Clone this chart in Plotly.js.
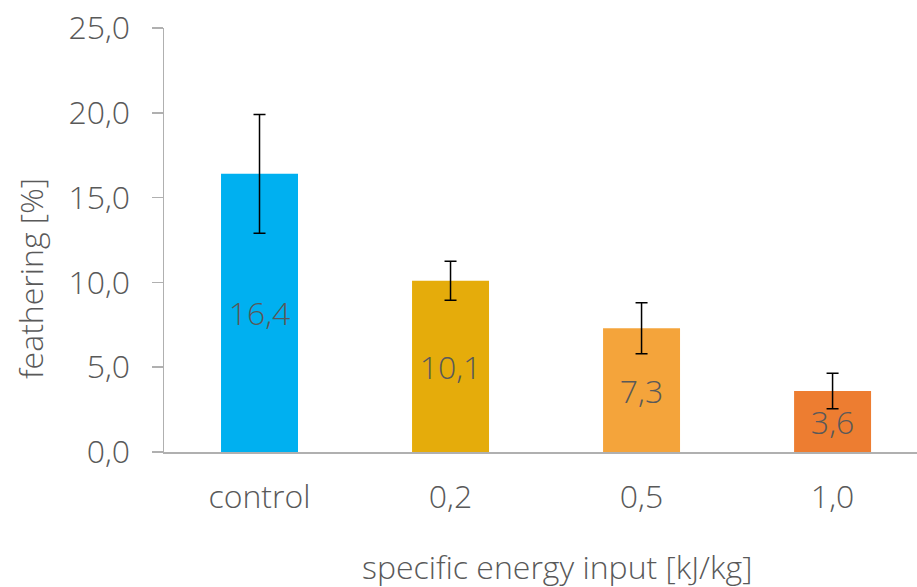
<!DOCTYPE html>
<html>
<head>
<meta charset="utf-8">
<script src="https://cdn.plot.ly/plotly-3.0.1.min.js"></script>
<style>html,body{margin:0;padding:0;background:#fff;}#chart{width:917px;height:587px;}</style>
</head>
<body>
<div id="chart"></div>
<script>
const categories = ["control", "0,2", "0,5", "1,0"];
const values = [16.4, 10.1, 7.3, 3.6];
const errors = [3.5, 1.15, 1.5, 1.05];
const colors = ["#00b0f0", "#e5ac0b", "#f4a43b", "#ed7d31"];
const yTickVals = [0, 5, 10, 15, 20, 25];

const FONT = {family: "Open Sans, sans-serif", size: 32, color: "#595959", weight: 300};

const trace = {
  type: "bar",
  x: categories,
  y: values,
  width: 0.403,
  marker: {color: colors, line: {width: 0}},
  error_y: {type: "data", array: errors, visible: true, color: "#000000", thickness: 1.5, width: 6},
  texttemplate: "%{y:.1f}",
  textposition: "inside",
  insidetextanchor: "middle",
  constraintext: "none",
  textfont: FONT,
  hoverinfo: "none"
};

const layout = {
  width: 917, height: 587,
  margin: {l: 164, r: 0, t: 28, b: 135},
  paper_bgcolor: "#ffffff", plot_bgcolor: "#ffffff",
  separators: ",.",
  font: FONT,
  showlegend: false,
  xaxis: {
    type: "category",
    range: [-0.5, 3.442],
    showline: true, linecolor: "#b0b0b0", linewidth: 1.5,
    ticks: "", showgrid: false, zeroline: false,
    tickfont: FONT,
    ticklabelstandoff: 16
  },
  yaxis: {
    range: [0, 25],
    tickvals: yTickVals,
    tickformat: ".1f",
    showline: true, linecolor: "#b0b0b0", linewidth: 1.5,
    ticks: "outside", ticklen: 11, tickcolor: "#b0b0b0", tickwidth: 1.5,
    showgrid: false, zeroline: false,
    tickfont: FONT,
    ticklabelstandoff: 15
  },
  annotations: [
    {text: "feathering [%]", xref: "paper", yref: "paper", x: -164/753, y: (452-279)/424,
     xanchor: "center", yanchor: "middle", textangle: -90, showarrow: false, font: FONT,
     xshift: 30},
    {text: "specific energy input [kJ/kg]", xref: "paper", yref: "paper", x: (557-164)/753, y: -(566-452)/424,
     xanchor: "center", yanchor: "middle", showarrow: false, font: FONT}
  ]
};

Plotly.newPlot("chart", [trace], layout, {displayModeBar: false, staticPlot: true});
</script>
</body>
</html>
